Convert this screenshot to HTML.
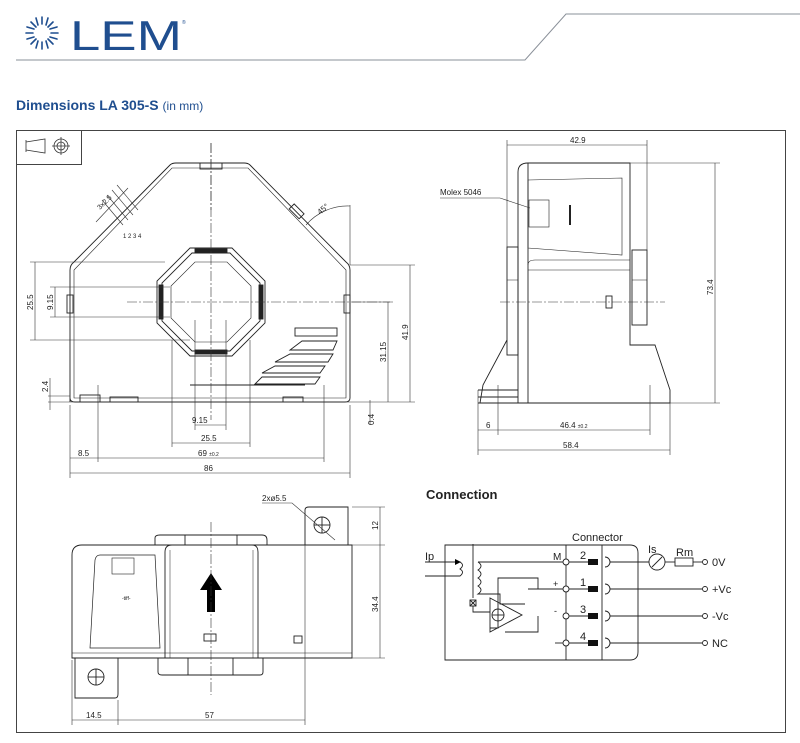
<!DOCTYPE html>
<html><head><meta charset="utf-8"><style>
html,body{margin:0;padding:0;background:#fff;}
svg{display:block;}
text{font-family:"Liberation Sans",sans-serif;}
</style></head><body>
<svg width="800" height="743" viewBox="0 0 800 743" xmlns="http://www.w3.org/2000/svg">
<!-- header -->
<g stroke="#1f4e8f" stroke-width="1.6" stroke-linecap="round">
<line x1="42" y1="17" x2="42" y2="24"/><line x1="42" y1="42" x2="42" y2="49"/>
<line x1="26" y1="33" x2="33" y2="33"/><line x1="51" y1="33" x2="58" y2="33"/>
<line x1="31" y1="22" x2="36" y2="27"/><line x1="48" y1="39" x2="53" y2="44"/>
<line x1="53" y1="22" x2="48" y2="27"/><line x1="36" y1="39" x2="31" y2="44"/>
<line x1="36" y1="18" x2="38" y2="25"/><line x1="46" y1="41" x2="48" y2="48"/>
<line x1="48" y1="18" x2="46" y2="25"/><line x1="38" y1="41" x2="36" y2="48"/>
<line x1="27" y1="27" x2="34" y2="29"/><line x1="50" y1="37" x2="57" y2="39"/>
<line x1="27" y1="39" x2="34" y2="37"/><line x1="50" y1="29" x2="57" y2="27"/>
</g>
<text x="70" y="50" font-size="42" fill="#1f4e8f" textLength="112" lengthAdjust="spacingAndGlyphs">LEM</text>
<text x="182" y="24" font-size="5" fill="#1f4e8f">®</text>
<polyline points="16,60 525,60 566,14 800,14" fill="none" stroke="#8a9099" stroke-width="1"/>
<text x="16" y="110" font-size="14" font-weight="bold" fill="#1f4e8f">Dimensions LA 305-S <tspan font-weight="normal" font-size="12">(in mm)</tspan></text>

<!-- frame -->
<rect x="16.5" y="130.5" width="769" height="602" fill="none" stroke="#444" stroke-width="1"/>
<rect x="16.5" y="130.5" width="65" height="34" fill="none" stroke="#444"/>
<g fill="none" stroke="#333" stroke-width="0.8">
<path d="M26,140 L26,152 M26,142 L45,139 L45,153 L26,150"/>
<circle cx="61" cy="146" r="7"/><circle cx="61" cy="146" r="4"/>
<line x1="52" y1="146" x2="70" y2="146"/><line x1="61" y1="137" x2="61" y2="155"/>
</g>

<g fill="none" stroke="#222" stroke-width="0.9">
<!-- FRONT VIEW -->
<path d="M70,402 L70,270 Q70,265 74,262 L170,165 Q172,163 176,163 L244,163 Q248,163 250,165 L346,262 Q350,265 350,270 L350,398 Q350,402 345,402 L75,402 Q70,402 70,398 Z"/>
<path d="M74,398 L74,270 L172,168 L248,168 L346,270 L346,398 Z" stroke-width="0.6"/>
<rect x="200" y="163" width="22" height="6"/>
<rect x="67" y="295" width="6" height="18"/><rect x="344" y="295" width="6" height="18"/>
<rect x="290" y="208" width="14" height="7" transform="rotate(45 297 211)"/>
<polygon points="190,248 232,248 265,281 265,323 232,356 190,356 157,323 157,281"/>
<polygon points="192,253 230,253 260,283 260,321 230,351 192,351 162,321 162,283"/>
<polygon points="195,262 227,262 251,286 251,318 227,342 195,342 171,318 171,286" stroke-width="0.6"/>
<rect x="195" y="249" width="32" height="4" fill="#222"/><rect x="195" y="350" width="32" height="4" fill="#222"/>
<rect x="159" y="285" width="4" height="34" fill="#222"/><rect x="259" y="285" width="4" height="34" fill="#222"/>
<rect x="295" y="328" width="42" height="8"/>
<polygon points="302,341 337,341 333,350 290,350"/>
<polygon points="290,354 333,354 328,362 275,362"/>
<polygon points="275,366 325,366 320,373 262,373"/>
<polygon points="262,377 320,377 315,384 255,384"/>
<line x1="190" y1="385" x2="305" y2="385"/>
<rect x="80" y="395" width="20" height="7"/><rect x="110" y="397" width="28" height="5"/><rect x="283" y="397" width="20" height="5"/>
</g>
<g fill="none" stroke="#333" stroke-width="0.6" stroke-dasharray="10,2,2,2">
<line x1="211" y1="143" x2="211" y2="420"/><line x1="127" y1="302" x2="390" y2="302"/>
<line x1="211" y1="143" x2="211" y2="210"/>
</g>
<g fill="none" stroke="#333" stroke-width="0.6">
<line x1="30" y1="262" x2="165" y2="262"/><line x1="30" y1="340" x2="190" y2="340"/><line x1="35" y1="262" x2="35" y2="340"/>
<line x1="50" y1="287" x2="170" y2="287"/><line x1="50" y1="317" x2="170" y2="317"/><line x1="55" y1="287" x2="55" y2="317"/>
<line x1="350" y1="265" x2="415" y2="265"/><line x1="352" y1="302" x2="393" y2="302"/><line x1="388" y1="302" x2="388" y2="402"/>
<line x1="410" y1="265" x2="410" y2="402"/><line x1="48" y1="402" x2="415" y2="402"/><line x1="48" y1="396" x2="70" y2="396"/>
<line x1="50" y1="378" x2="50" y2="410"/><line x1="370" y1="400" x2="370" y2="425"/>
<line x1="195" y1="320" x2="195" y2="430"/><line x1="226" y1="320" x2="226" y2="430"/><line x1="195" y1="425" x2="226" y2="425"/>
<line x1="172" y1="340" x2="172" y2="447"/><line x1="250" y1="340" x2="250" y2="447"/><line x1="172" y1="443" x2="250" y2="443"/>
<line x1="98" y1="385" x2="98" y2="462"/><line x1="324" y1="385" x2="324" y2="462"/><line x1="70" y1="458" x2="324" y2="458"/>
<line x1="70" y1="405" x2="70" y2="478"/><line x1="350" y1="405" x2="350" y2="478"/><line x1="70" y1="473" x2="350" y2="473"/>
<path d="M306,225 A55,55 0 0 1 350,206"/><line x1="350" y1="205" x2="350" y2="265"/>
<line x1="96" y1="222" x2="128" y2="188"/><line x1="102" y1="200" x2="123" y2="225"/><line x1="107" y1="195" x2="128" y2="220"/><line x1="112" y1="190" x2="133" y2="215"/><line x1="117" y1="185" x2="138" y2="210"/>
</g>
<g font-size="8" fill="#222">
<text x="192" y="423">9.15</text><text x="201" y="441">25.5</text><text x="198" y="456">69 <tspan font-size="5">±0.2</tspan></text>
<text x="78" y="456">8.5</text><text x="204" y="471">86</text>
<text transform="translate(33,310) rotate(-90)">25.5</text>
<text transform="translate(53,310) rotate(-90)">9.15</text>
<text transform="translate(386,362) rotate(-90)">31.15</text>
<text transform="translate(408,340) rotate(-90)">41.9</text>
<text transform="translate(48,392) rotate(-90)">2.4</text>
<text transform="translate(374,425) rotate(-90)">0.4</text>
<text transform="translate(320,215) rotate(-40)">45°</text>
<text transform="translate(100,210) rotate(-45)" font-size="7">3x2.5</text>
<text x="123" y="238" font-size="6">1 2 3 4</text>
</g>

<!-- SIDE VIEW -->
<g fill="none" stroke="#222" stroke-width="0.9">
<path d="M518,403 L518,172 Q518,163 528,163 L630,163 L630,345 L655,345 L670,390 L670,403 Z"/>
<path d="M528,180 L622,178 L622,255 L528,248 Z" stroke-width="0.6"/>
<line x1="528" y1="163" x2="528" y2="403"/>
<path d="M528,265 Q528,260 535,260 L630,260" stroke-width="0.6"/><line x1="528" y1="270" x2="630" y2="270" stroke-width="0.6"/>
<rect x="507" y="247" width="11" height="108"/><rect x="632" y="250" width="15" height="75"/>
<line x1="632" y1="280" x2="647" y2="280" stroke-width="0.5"/><line x1="507" y1="280" x2="518" y2="280" stroke-width="0.5"/>
<path d="M507,340 L483,385 L480,403 M478,390 L518,390 M478,397 L518,397 M478,403 L670,403"/>
<rect x="606" y="296" width="6" height="12"/>
<rect x="529" y="200" width="20" height="27" stroke-width="0.6"/>
<line x1="570" y1="205" x2="570" y2="225" stroke-width="2"/>
</g>
<g fill="none" stroke="#333" stroke-width="0.6">
<line x1="500" y1="302" x2="665" y2="302" stroke-dasharray="10,2,2,2"/>
<line x1="507" y1="140" x2="507" y2="247"/><line x1="647" y1="140" x2="647" y2="250"/><line x1="507" y1="145" x2="647" y2="145"/>
<line x1="630" y1="163" x2="720" y2="163"/><line x1="670" y1="403" x2="720" y2="403"/><line x1="715" y1="163" x2="715" y2="403"/>
<line x1="478" y1="390" x2="478" y2="455"/><line x1="498" y1="385" x2="498" y2="435"/><line x1="650" y1="385" x2="650" y2="435"/><line x1="670" y1="403" x2="670" y2="455"/>
<line x1="478" y1="430" x2="650" y2="430"/><line x1="478" y1="450" x2="670" y2="450"/>
<polyline points="440,198 500,198 530,208"/>
</g>
<g font-size="8" fill="#222">
<text x="570" y="143">42.9</text><text x="440" y="195">Molex 5046</text>
<text x="486" y="428">6</text><text x="560" y="428">46.4 <tspan font-size="5">±0.2</tspan></text><text x="563" y="448">58.4</text>
<text transform="translate(713,295) rotate(-90)">73.4</text>
</g>

<!-- BOTTOM VIEW -->
<g fill="none" stroke="#222" stroke-width="0.9">
<path d="M72,658 L72,555 Q72,545 82,545 L352,545 L352,658 Z"/>
<line x1="72" y1="653" x2="352" y2="653" stroke-width="0.6"/>
<path d="M90,648 L95,560 Q96,555 100,555 L155,555 L160,648 Z" stroke-width="0.7"/>
<path d="M165,658 L165,552 Q165,545 172,545 L252,545 Q258,545 258,552 L258,658" />
<line x1="170" y1="550" x2="170" y2="658" stroke-width="0.5"/><line x1="253" y1="550" x2="253" y2="658" stroke-width="0.5"/>
<path d="M155,545 L155,538 Q155,535 160,535 L262,535 Q267,535 267,540 L267,545"/>
<path d="M158,658 L158,672 Q158,675 162,675 L260,675 Q263,675 263,672 L263,658"/>
<line x1="185" y1="535" x2="185" y2="545"/><line x1="237" y1="535" x2="237" y2="545"/>
<line x1="188" y1="658" x2="188" y2="675"/><line x1="233" y1="658" x2="233" y2="675"/>
<path d="M305,545 L305,510 Q305,507 309,507 L348,507 L348,545"/>
<path d="M75,658 L75,698 L115,698 Q118,698 118,694 L118,658"/>
<circle cx="322" cy="525" r="8"/><line x1="314" y1="525" x2="330" y2="525"/><line x1="322" y1="517" x2="322" y2="533"/>
<circle cx="96" cy="677" r="8"/><line x1="88" y1="677" x2="104" y2="677"/><line x1="96" y1="669" x2="96" y2="685"/>
<rect x="204" y="634" width="12" height="7"/><rect x="294" y="636" width="8" height="7"/>
<rect x="112" y="558" width="22" height="16" stroke-width="0.6"/>
</g>
<polygon points="211,573 222,590 215,590 215,612 207,612 207,590 200,590" fill="#000"/>
<line x1="211" y1="522" x2="211" y2="695" stroke="#333" stroke-width="0.6" stroke-dasharray="10,2,2,2"/>
<g fill="none" stroke="#333" stroke-width="0.6">
<line x1="352" y1="507" x2="385" y2="507"/><line x1="352" y1="545" x2="385" y2="545"/><line x1="352" y1="658" x2="385" y2="658"/><line x1="380" y1="507" x2="380" y2="658"/>
<line x1="72" y1="660" x2="72" y2="725"/><line x1="118" y1="700" x2="118" y2="725"/><line x1="305" y1="545" x2="305" y2="725"/><line x1="72" y1="720" x2="305" y2="720"/>
<polyline points="262,503 292,503 335,540"/>
</g>
<g font-size="8" fill="#222">
<text x="262" y="501">2xø5.5</text><text x="86" y="718">14.5</text><text x="205" y="718">57</text>
<text transform="translate(378,530) rotate(-90)">12</text><text transform="translate(378,612) rotate(-90)">34.4</text>
<text x="122" y="600" font-size="5">-tiff-</text>
</g>

<!-- CONNECTION -->
<text x="426" y="499" font-size="13" font-weight="bold" fill="#222">Connection</text>
<g fill="none" stroke="#222" stroke-width="0.9">
<path d="M445,545 L630,545 Q638,545 638,553 L638,652 Q638,660 630,660 L445,660 Z"/>
<line x1="566" y1="545" x2="566" y2="660"/><line x1="602" y1="545" x2="602" y2="660"/>
<path d="M425,562 L460,562 Q465,565 460,569 Q465,572 460,576 L425,576"/>
<line x1="473" y1="544" x2="473" y2="598"/>
<path d="M478,562 L563,562 M478,562 Q484,566 478,570 Q484,574 478,578 Q484,582 478,586 Q484,590 478,594 L500,594 L500,604 L525,604"/>
<polyline points="528,589 563,589 M563,616 L538,616"/>
<path d="M538,589 L538,578 L498,578 L498,628 L490,628 M538,616 L538,632 L505,632"/>
<polygon points="490,598 490,632 522,615"/>
<circle cx="498" cy="615" r="6"/><line x1="492" y1="615" x2="504" y2="615"/>
<rect x="470" y="600" width="6" height="6"/><line x1="470" y1="600" x2="476" y2="606"/><line x1="476" y1="600" x2="470" y2="606"/>
<polyline points="473,606 473,612 490,612"/>
<line x1="566" y1="643" x2="566" y2="643"/>
</g>
<g fill="#fff" stroke="#222" stroke-width="0.9">
<circle cx="566" cy="562" r="3"/><circle cx="566" cy="589" r="3"/><circle cx="566" cy="616" r="3"/><circle cx="566" cy="643" r="3"/>
</g>
<g fill="#111">
<rect x="588" y="559" width="10" height="6"/><rect x="588" y="586" width="10" height="6"/><rect x="588" y="613" width="10" height="6"/><rect x="588" y="640" width="10" height="6"/>
</g>
<g fill="none" stroke="#222" stroke-width="0.9">
<path d="M605,557 A5,5 0 0 1 605,567 M605,584 A5,5 0 0 1 605,594 M605,611 A5,5 0 0 1 605,621 M605,638 A5,5 0 0 1 605,648"/>
<line x1="569" y1="562" x2="588" y2="562"/><line x1="569" y1="589" x2="588" y2="589"/><line x1="569" y1="616" x2="588" y2="616"/><line x1="569" y1="643" x2="588" y2="643"/>
<line x1="555" y1="643" x2="563" y2="643"/>
<line x1="610" y1="562" x2="649" y2="562"/><circle cx="657" cy="562" r="8"/><line x1="652" y1="567" x2="662" y2="557"/>
<line x1="665" y1="562" x2="675" y2="562"/><rect x="675" y="558" width="18" height="8"/><line x1="693" y1="562" x2="702" y2="562"/>
<line x1="610" y1="589" x2="702" y2="589"/><line x1="610" y1="616" x2="702" y2="616"/><line x1="610" y1="643" x2="702" y2="643"/>
<circle cx="705" cy="562" r="2.5"/><circle cx="705" cy="589" r="2.5"/><circle cx="705" cy="616" r="2.5"/><circle cx="705" cy="643" r="2.5"/>
</g>
<polygon points="455,559 461,562 455,565" fill="#000"/>
<g font-size="11" fill="#222">
<text x="572" y="541">Connector</text>
<text x="425" y="560">Ip</text><text x="648" y="553">Is</text><text x="676" y="556">Rm</text>
<text x="553" y="560" font-size="10">M</text><text x="553" y="587" font-size="9">+</text><text x="554" y="614" font-size="9">-</text>
<text x="580" y="559">2</text><text x="580" y="586">1</text><text x="580" y="613">3</text><text x="580" y="640">4</text>
<text x="712" y="566">0V</text><text x="712" y="593">+Vc</text><text x="712" y="620">-Vc</text><text x="712" y="647">NC</text>
</g>
</svg>
</body></html>
